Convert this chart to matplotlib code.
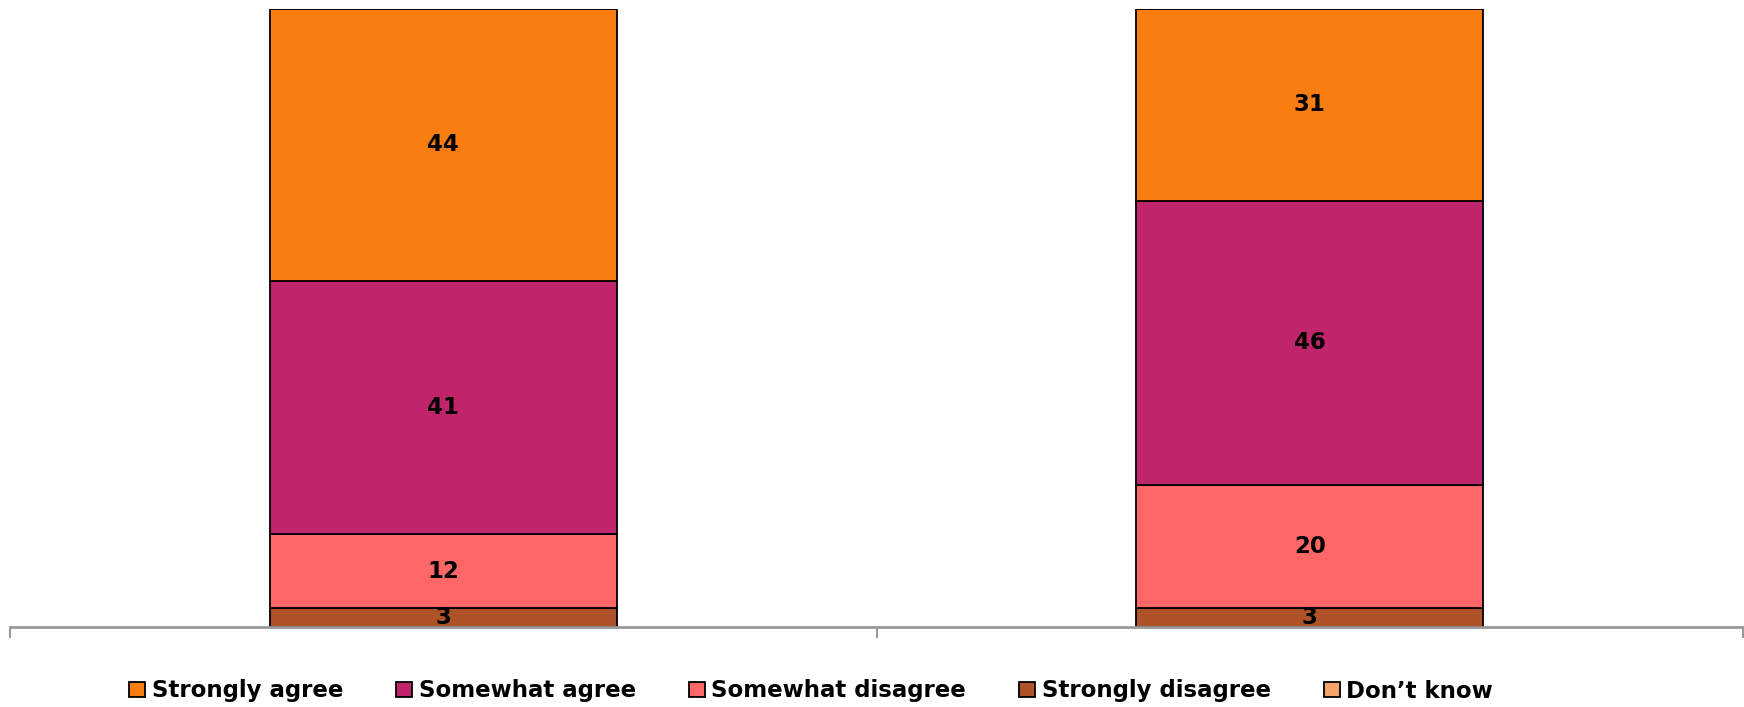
import matplotlib
matplotlib.use("Agg")
import matplotlib.pyplot as plt
from matplotlib.patches import Patch

categories = ["Group A", "Group B"]
strongly_disagree = [3, 3]
somewhat_disagree = [12, 20]
somewhat_agree = [41, 46]
strongly_agree = [44, 31]
dont_know = [0, 0]

colors = {
    "Strongly agree": "#FA7D12",
    "Somewhat agree": "#C0246A",
    "Somewhat disagree": "#FF6666",
    "Strongly disagree": "#AE5229",
    "Don\u2019t know": "#F4A46A",
}

plt.rcParams["font.family"] = ["DejaVu Sans"]

fig = plt.figure(figsize=(17.44, 7.07), dpi=100)
ax = fig.add_axes([10 / 1744, 80 / 707, 1733 / 1744, 618 / 707])

stack = [
    ("Strongly disagree", strongly_disagree),
    ("Somewhat disagree", somewhat_disagree),
    ("Somewhat agree", somewhat_agree),
    ("Strongly agree", strongly_agree),
    ("Don\u2019t know", dont_know),
]

x = list(range(len(categories)))
bottom = [0.0] * len(categories)
for name, vals in stack:
    ax.bar(x, vals, width=0.4, bottom=bottom, color=colors[name],
           edgecolor="black", linewidth=1.3, zorder=2)
    for xi, b, v in zip(x, bottom, vals):
        if v > 0:
            ax.text(xi, b + v / 2, f"{v}", ha="center", va="center",
                    fontsize=16.5, fontweight="bold", color="black", zorder=3)
    bottom = [b + v for b, v in zip(bottom, vals)]

ax.set_xlim(-0.5, len(categories) - 0.5)
ax.set_ylim(0, 100)
for s in ["top", "left", "right"]:
    ax.spines[s].set_visible(False)
ax.spines["bottom"].set_color("#999999")
ax.spines["bottom"].set_linewidth(2)
ax.spines["bottom"].set_zorder(4)
ax.set_yticks([])
ax.set_xticks([-0.5 + i for i in range(len(categories) + 1)])
ax.set_xticklabels([])
ax.tick_params(axis="x", length=8, width=1.5, color="#999999", direction="out")

legend_order = ["Strongly agree", "Somewhat agree", "Somewhat disagree", "Strongly disagree", "Don\u2019t know"]
handles = [Patch(facecolor=colors[n], edgecolor="black", linewidth=1.3, label=n) for n in legend_order]
fig.legend(handles=handles, loc="center", bbox_to_anchor=(811 / 1744, 1 - 691 / 707), ncol=5,
           frameon=False, prop={"weight": "bold", "size": 16.5},
           handlelength=0.72, handleheight=0.65, handletextpad=0.28, columnspacing=2.3,
           borderpad=0, borderaxespad=0)

fig.savefig("out.png", dpi=100)
